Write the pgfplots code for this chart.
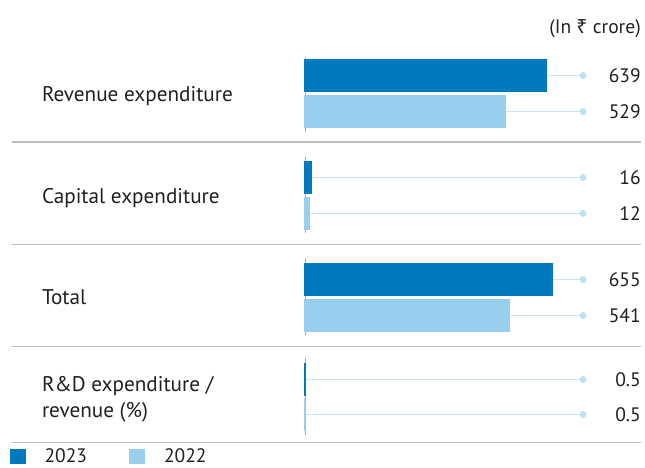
\documentclass[border=0pt]{standalone}
\usepackage{pgfplots}
\usepackage{pgfplotstable}
\pgfplotsset{compat=1.18}
\usepackage{fontspec}
\setmainfont{PT Sans}
\newfontfamily\rupeefont{Noto Sans}
\definecolor{cA}{HTML}{0079C1}
\definecolor{cB}{HTML}{98CEEE}
\definecolor{cline}{HTML}{C8E4F7}
\definecolor{cdot}{HTML}{BDE0F5}
\definecolor{csep}{HTML}{BEBEBE}
\definecolor{caxis}{HTML}{A8A8A8}
\definecolor{ctext}{HTML}{231F20}

% values (in crore; last group in %)
\pgfplotstableread{
y v
75.5 639
177.5 16
279.5 655
379.5 0.5
}\dataA
\pgfplotstableread{
y v
111.5 529
213.5 12
315.5 541
414.5 0.5
}\dataB
\pgfplotstableread{
y v label
75.5 639 639
111.5 529 529
177.5 16 16
213.5 12 12
279.5 655 655
315.5 541 541
379.5 0.5 0.5
414.5 0.5 0.5
}\dataAll

\begin{document}
\begin{tikzpicture}
\useasboundingbox (0,0) rectangle (645bp,468bp);
\begin{axis}[
  at={(0,0)}, anchor=south west,
  scale only axis, width=645bp, height=468bp,
  xmin=-806.3, xmax=898.8, ymin=0, ymax=468,
  y dir=reverse, axis lines=none, clip=false,
  font=\fontsize{21.2bp}{25bp}\selectfont\color{ctext},
  legend style={at={(axis cs:-781,456)}, anchor=west, draw=none, fill=none,
    legend columns=2, inner sep=0pt, outer sep=0pt,
    /tikz/every even column/.append style={column sep=40bp},
    font=\fontsize{19.5bp}{23bp}\selectfont\color{ctext}},
  legend image code/.code={\fill[#1,draw=none] (0bp,-7.5bp) rectangle (16bp,7.5bp); \path[draw=none,fill=none] (0bp,0bp) -- (33bp,0bp);},
  legend cell align=left,
  connector/.style={cline, line width=1.1bp, forget plot},
]
% connector lines
\addplot[connector] coordinates {(0,75.5) (735,75.5)};
\addplot[connector] coordinates {(0,111.5) (735,111.5)};
\addplot[connector] coordinates {(0,177.5) (735,177.5)};
\addplot[connector] coordinates {(0,213.5) (735,213.5)};
\addplot[connector] coordinates {(0,279.5) (735,279.5)};
\addplot[connector] coordinates {(0,315.5) (735,315.5)};
\addplot[connector] coordinates {(0,379.5) (735,379.5)};
\addplot[connector] coordinates {(0,414.5) (735,414.5)};
\addplot[only marks, mark=*, mark size=3.2bp, color=cdot, forget plot]
  table[x expr=735, y=y] {\dataAll};
% group axis lines
\draw[caxis, line width=1bp] (axis cs:0,57) -- (axis cs:0,132);
\draw[caxis, line width=1bp] (axis cs:0,157) -- (axis cs:0,233);
\draw[caxis, line width=1bp] (axis cs:0,259) -- (axis cs:0,335);
\draw[caxis, line width=1bp] (axis cs:0,358) -- (axis cs:0,435);
% separators
\draw[csep, line width=1.3bp] (axis cs:-775,142) -- (axis cs:888,142);
\draw[csep, line width=1.3bp] (axis cs:-775,244.5) -- (axis cs:888,244.5);
\draw[csep, line width=1.3bp] (axis cs:-775,346.7) -- (axis cs:888,346.7);
\draw[csep, line width=1.3bp] (axis cs:-775,442.7) -- (axis cs:888,442.7);
% bars
\addplot[xbar, bar width=31, bar shift=0, fill=cA, draw=cA, line width=1.2bp]
  table[x=v, y=y] {\dataA};
\addlegendentry{2023}
\addplot[xbar, bar width=31, bar shift=0, fill=cB, draw=cB, line width=1.2bp]
  table[x=v, y=y] {\dataB};
\addlegendentry{2022}
% value labels
\addplot[draw=none, mark=none, forget plot, nodes near coords={\pgfplotspointmeta},
  nodes near coords style={anchor=east, inner sep=0pt, font=\fontsize{19.5bp}{23bp}\selectfont\color{ctext}},
  point meta=explicit symbolic]
  table[x expr=888, y=y, meta=label] {\dataAll};
% category labels
\node[anchor=base west, inner sep=0pt] at (axis cs:-695.8,101) {Revenue expenditure};
\node[anchor=base west, inner sep=0pt] at (axis cs:-695.8,203) {Capital expenditure};
\node[anchor=base west, inner sep=0pt] at (axis cs:-695.8,304) {Total};
\node[anchor=base west, inner sep=0pt] at (axis cs:-695.8,391.5) {R\&D expenditure /};
\node[anchor=base west, inner sep=0pt] at (axis cs:-695.8,417) {revenue (\%)};
\node[anchor=base east, inner sep=0pt, font=\fontsize{19.5bp}{23bp}\selectfont\color{ctext}] at (axis cs:888,33) {(In {\rupeefont ₹} crore)};
\end{axis}
\end{tikzpicture}
\end{document}
